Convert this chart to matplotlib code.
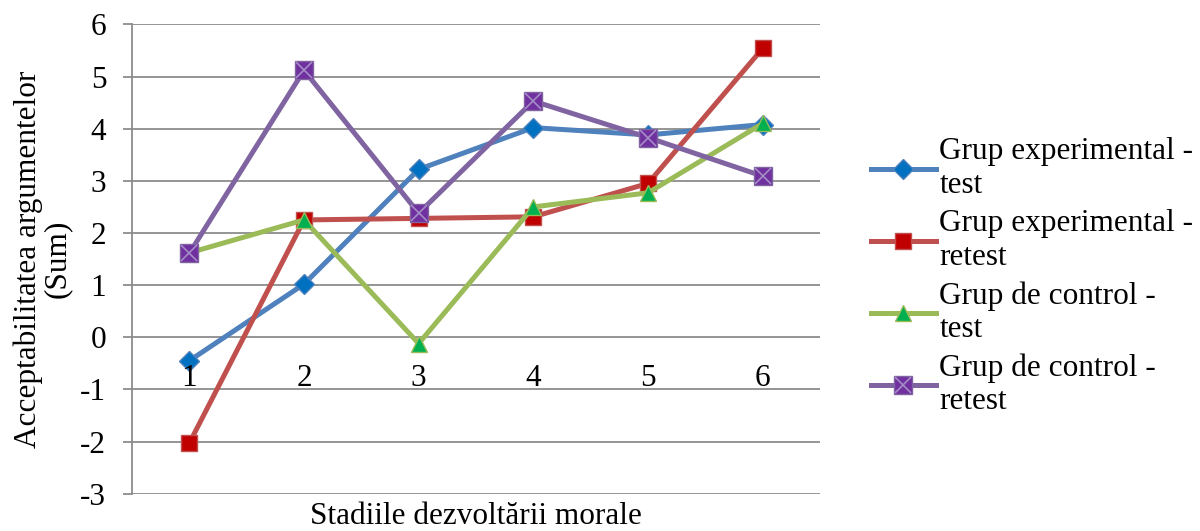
import matplotlib
matplotlib.use("Agg")
import matplotlib.pyplot as plt
from matplotlib.legend_handler import HandlerTuple

stages = [1, 2, 3, 4, 5, 6]
exp_test = [-0.45, 1.02, 3.22, 4.02, 3.88, 4.08]
exp_retest = [-2.03, 2.25, 2.28, 2.31, 2.95, 5.54]
ctrl_test = [1.62, 2.25, -0.12, 2.5, 2.77, 4.1]
ctrl_retest = [1.61, 5.12, 2.38, 4.53, 3.83, 3.09]
labels = ["Grup experimental -\ntest", "Grup experimental -\nretest",
          "Grup de control -\ntest", "Grup de control -\nretest"]
yticks = [-3, -2, -1, 0, 1, 2, 3, 4, 5, 6]

plt.rcParams['font.family'] = ['Liberation Serif', 'DejaVu Serif']
FS = 22.5
fig = plt.figure(figsize=(12, 5.31), dpi=100)
ax = fig.add_axes([132/1200, 1-493.7/531, (820-132)/1200, (493.7-24.4)/531])

x = list(range(len(stages)))
lw = 3.6
h1, = ax.plot(x, exp_test, color='#4F81BD', lw=lw, marker='D', ms=10,
              mfc='#0070C0', mec='#4F81BD', zorder=3)
h2, = ax.plot(x, exp_retest, color='#C0504D', lw=lw, marker='s', ms=12,
              mfc='#C00000', mec='#C0504D', zorder=3)
h3, = ax.plot(x, ctrl_test, color='#9BBB59', lw=lw, marker='^', ms=12,
              mfc='#00B050', mec='#9BBB59', zorder=3)
h4, = ax.plot(x, ctrl_retest, color='#8064A2', lw=lw, marker='s', ms=13,
              mfc='#7030A0', mec='#8064A2', zorder=3)
h4x, = ax.plot(x, ctrl_retest, ls='none', marker='x', ms=11, mew=1.2,
               color='#A48CC4', zorder=4)

ax.set_ylim(-3, 6)
ax.set_xlim(-0.5, len(stages) - 0.5)
ax.set_yticks(yticks)
ax.set_yticklabels([str(v) for v in yticks], fontsize=FS)
ax.yaxis.grid(True, color='#8C8C8C', lw=1.3)
ax.set_axisbelow(True)
ax.tick_params(axis='y', length=6.5, width=1.3, color='#8C8C8C', pad=12)
ax.set_xticks([])
for i, s in enumerate(stages):
    ax.text(i, -0.94, str(s), ha='center', va='baseline', fontsize=FS)

for side in ['top', 'right', 'bottom']:
    ax.spines[side].set_visible(False)
ax.spines['left'].set_color('#8C8C8C')
ax.spines['left'].set_linewidth(1.3)

ax.set_xlabel("Stadiile dezvoltării morale", fontsize=FS, labelpad=6)
ax.set_ylabel("Acceptabilitatea argumentelor\n(Sum)", fontsize=FS, labelpad=6,
              linespacing=1.0)

fig.legend([h1, h2, h3, (h4, h4x)], labels, loc='upper left',
           bbox_to_anchor=(858/1200, 1-125/531), frameon=False, fontsize=FS,
           handlelength=2.1, handletextpad=0.1, labelspacing=0.3,
           borderaxespad=0, handler_map={tuple: HandlerTuple(ndivide=1, pad=0)})

fig.savefig("out.png", dpi=100)
